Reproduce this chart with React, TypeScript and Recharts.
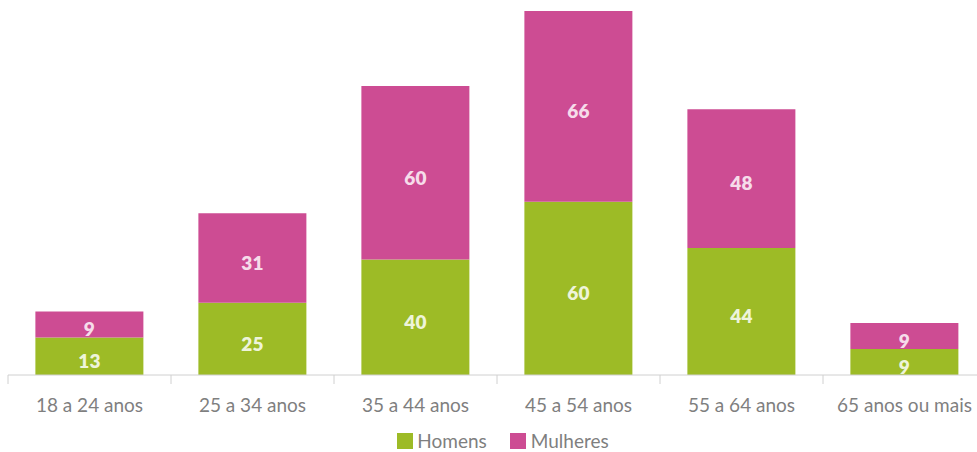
import React from "react";
import { BarChart, Bar, XAxis, YAxis, Legend, LabelList } from "recharts";

const categories = ["18 a 24 anos", "25 a 34 anos", "35 a 44 anos", "45 a 54 anos", "55 a 64 anos", "65 anos ou mais"];
const homens = [13, 25, 40, 60, 44, 9];
const mulheres = [9, 31, 60, 66, 48, 9];

const data = categories.map((c, i) => ({ name: c, Homens: homens[i], Mulheres: mulheres[i] }));

const GREEN = "#9dbb26";
const PINK = "#cd4c93";
const FONT = "Lato, 'Open Sans', sans-serif";
const W = 977;
const H = 452;
const M = { top: 11, right: -9, left: 8, bottom: 0 };

const makeLabel = (fill: string) => (props: any) => {
  const { x, y, width, height, value } = props;
  return (
    <text
      x={x + width / 2}
      y={y + height / 2 + 7}
      textAnchor="middle"
      dominantBaseline="middle"
      fill={fill}
      fontFamily={FONT}
      fontWeight={800}
      fontSize={19}
    >
      {value}
    </text>
  );
};

const bandW = (W - M.left - M.right) / categories.length;

const Tick = (props: any) => {
  const { x, y, payload } = props;
  const lx = x - bandW / 2;
  return (
    <g>
      <line x1={lx} x2={lx} y1={y - 8} y2={y + 1} stroke="#d0d0d0" strokeWidth={1} />
      <text x={x} y={y + 29} textAnchor="middle" fill="#7f7f7f" fontFamily={FONT} fontSize={19}>
        {payload.value}
      </text>
    </g>
  );
};

const LegendContent = () => (
  <div style={{ display: "flex", justifyContent: "center", alignItems: "center", fontFamily: FONT, fontSize: 19, color: "#7f7f7f", paddingLeft: 12, marginTop: 9 }}>
    <span style={{ display: "inline-block", width: 16, height: 16, background: GREEN, marginRight: 4 }} />
    <span style={{ marginRight: 23 }}>Homens</span>
    <span style={{ display: "inline-block", width: 16, height: 16, background: PINK, marginRight: 5 }} />
    <span>Mulheres</span>
  </div>
);

export default function App() {
  return (
    <div style={{ position: "absolute", left: 0, top: 0, width: W, height: H, background: "#fff", overflow: "hidden" }}>
      <BarChart width={W} height={H} data={data} margin={M} barCategoryGap="16.8%">
        <XAxis
          dataKey="name"
          height={45}
          axisLine={{ stroke: "#d0d0d0" }}
          tickLine={false}
          tick={<Tick />}
          interval={0}
        />
        <YAxis hide domain={[0, 126]} />
        <Legend verticalAlign="bottom" height={32} content={<LegendContent />} />
        <Bar dataKey="Homens" stackId="a" fill={GREEN} isAnimationActive={false}>
          <LabelList dataKey="Homens" content={makeLabel("#eef4da")} />
        </Bar>
        <Bar dataKey="Mulheres" stackId="a" fill={PINK} isAnimationActive={false}>
          <LabelList dataKey="Mulheres" content={makeLabel("#f6dcea")} />
        </Bar>
      </BarChart>
    </div>
  );
}
